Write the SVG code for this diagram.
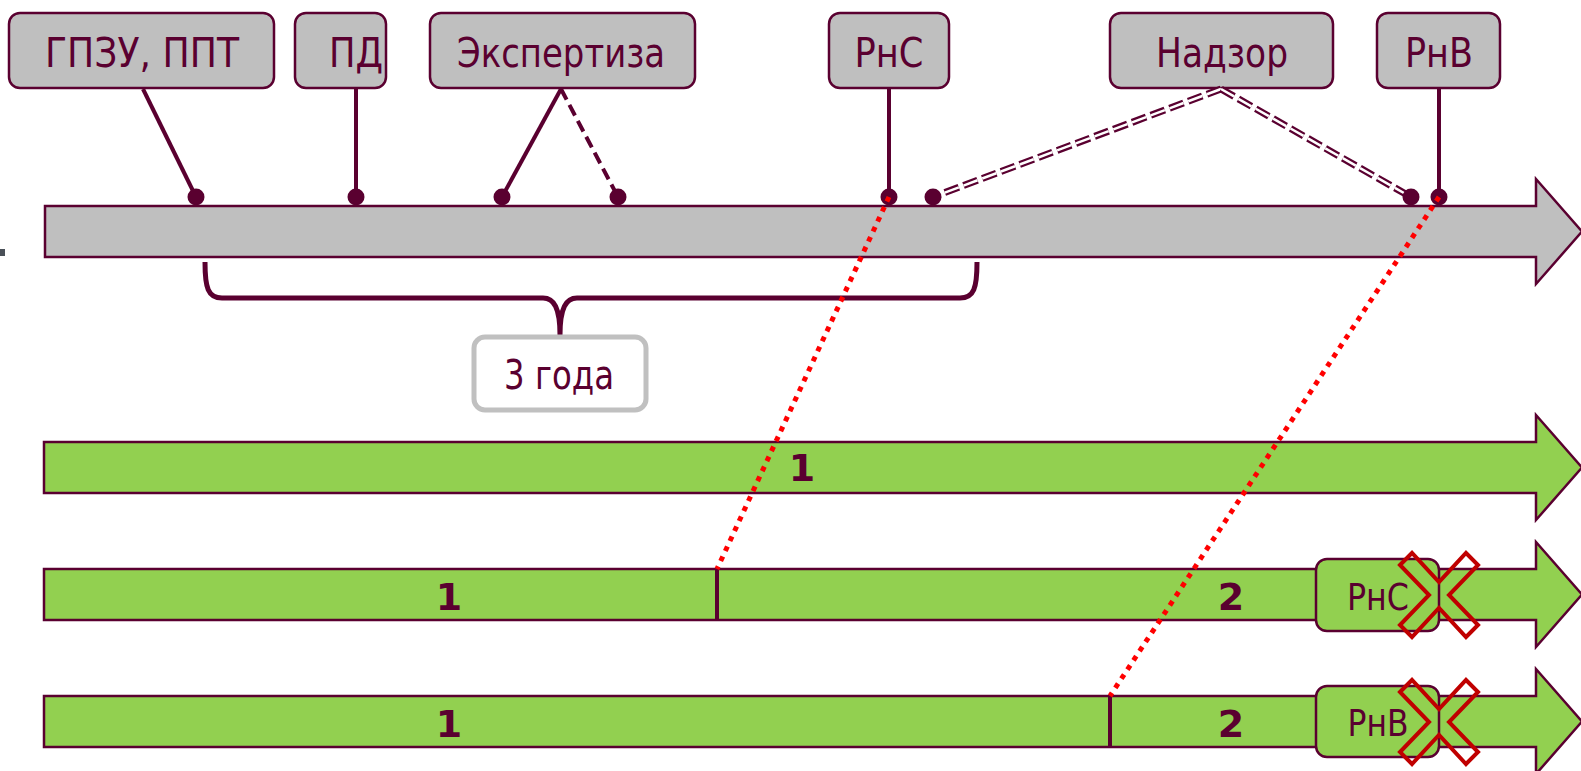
<svg xmlns="http://www.w3.org/2000/svg" width="1581" height="771" viewBox="0 0 1581 771">
<defs>
<style>
.box{fill:#bfbfbf;stroke:#5a0030;stroke-width:2.5}
.lbl{font-family:"DejaVu Sans","Liberation Sans",sans-serif;font-size:40px;fill:#5a0030;text-anchor:middle}
.sl{font-family:"DejaVu Sans","Liberation Sans",sans-serif;font-size:37px;fill:#5a0030;text-anchor:middle}
.num{font-family:"DejaVu Sans","Liberation Sans",sans-serif;font-size:38px;font-weight:bold;fill:#5a0030;text-anchor:middle}
.bar{fill:#bfbfbf;stroke:#5a0030;stroke-width:2.5}
.gbar{fill:#92d050;stroke:#5a0030;stroke-width:2.5}
.gbox{fill:#92d050;stroke:#5a0030;stroke-width:2.5}
.ln{stroke:#5a0030;stroke-width:4;fill:none}
.dsh{stroke:#5a0030;stroke-width:4;fill:none;stroke-dasharray:12 6}
.dbl{stroke:#5a0030;stroke-width:7;fill:none;stroke-dasharray:15 5}
.dblw{stroke:#ffffff;stroke-width:2.5;fill:none;stroke-dasharray:15 5}
.dot{fill:#5a0030}
.red{stroke:#ff0000;stroke-width:5;fill:none;stroke-dasharray:5 6}
.x{fill:none;stroke:#c00000;stroke-width:4}
.div{stroke:#5a0030;stroke-width:4}
</style>
</defs>
<rect x="0" y="249" width="5" height="7" fill="#4a5058"/>
<g id="timeline">
<path class="bar" d="M45,206 H1536 V179 L1582,231.5 L1536,284 V257 H45 Z"/>
</g>
<g id="brace">
<path d="M205,262 C205,288 208,298 222,298 L543,298 C554,298 560,308 560,335 C560,308 566,298 577,298 L960,298 C974,298 977,288 977,262" fill="none" stroke="#5a0030" stroke-width="5"/>
</g>
<g id="node-3goda">
<rect x="474" y="337" width="172" height="73" rx="11" fill="#ffffff" stroke="#c0c0c0" stroke-width="5"/>
<text class="lbl" x="559" y="389" textLength="110" lengthAdjust="spacingAndGlyphs">3 года</text>
</g>
<g id="node-gpzu">
<rect class="box" x="9" y="13" width="265" height="75" rx="11"/>
<text class="lbl" x="142" y="67" textLength="194" lengthAdjust="spacingAndGlyphs">ГПЗУ, ППТ</text>
</g>
<g id="node-pd">
<rect class="box" x="295" y="13" width="91" height="75" rx="11"/>
<text class="lbl" x="356" y="67" textLength="54" lengthAdjust="spacingAndGlyphs">ПД</text>
</g>
<g id="node-expertiza">
<rect class="box" x="430" y="13" width="265" height="75" rx="11"/>
<text class="lbl" x="561" y="67" textLength="208" lengthAdjust="spacingAndGlyphs">Экспертиза</text>
</g>
<g id="node-rns">
<rect class="box" x="829" y="13" width="120" height="75" rx="11"/>
<text class="lbl" x="889" y="67" textLength="69" lengthAdjust="spacingAndGlyphs">РнС</text>
</g>
<g id="node-nadzor">
<rect class="box" x="1110" y="13" width="223" height="75" rx="11"/>
<text class="lbl" x="1222" y="67" textLength="132" lengthAdjust="spacingAndGlyphs">Надзор</text>
</g>
<g id="node-rnv">
<rect class="box" x="1377" y="13" width="123" height="75" rx="11"/>
<text class="lbl" x="1439" y="67" textLength="68" lengthAdjust="spacingAndGlyphs">РнВ</text>
</g>
<g id="connectors">
<line class="ln" x1="143" y1="89" x2="196" y2="197"/>
<line class="ln" x1="356" y1="89" x2="356" y2="197"/>
<line class="ln" x1="561" y1="89" x2="502" y2="197"/>
<line class="dsh" x1="561" y1="89" x2="618" y2="197"/>
<line class="ln" x1="889" y1="89" x2="889" y2="197"/>
<line class="ln" x1="1439" y1="89" x2="1439" y2="197"/>
<line class="dbl" x1="1221" y1="89" x2="933" y2="197"/>
<line class="dblw" x1="1221" y1="89" x2="933" y2="197"/>
<line class="dbl" x1="1221" y1="89" x2="1411" y2="197"/>
<line class="dblw" x1="1221" y1="89" x2="1411" y2="197"/>
<circle class="dot" cx="196" cy="197" r="8.5"/>
<circle class="dot" cx="356" cy="197" r="8.5"/>
<circle class="dot" cx="502" cy="197" r="8.5"/>
<circle class="dot" cx="618" cy="197" r="8.5"/>
<circle class="dot" cx="889" cy="197" r="8.5"/>
<circle class="dot" cx="933" cy="197" r="8.5"/>
<circle class="dot" cx="1411" cy="197" r="8.5"/>
<circle class="dot" cx="1439" cy="197" r="8.5"/>
</g>
<g id="arrow-1">
<path class="gbar" d="M44,442 H1536 V415 L1582,467.5 L1536,520 V493 H44 Z"/>
<text class="num" x="802" y="481">1</text>
</g>
<g id="arrow-2">
<path class="gbar" d="M44,569 H1536 V542 L1582,594.5 L1536,647 V620 H44 Z"/>
<line class="div" x1="717" y1="569" x2="717" y2="619"/>
<text class="num" x="449" y="610">1</text>
<text class="num" x="1231" y="610">2</text>
</g>
<g id="node-rns-small">
<rect class="gbox" x="1316" y="559" width="123" height="72" rx="11"/>
<text class="sl" x="1378" y="610" textLength="62" lengthAdjust="spacingAndGlyphs">РнС</text>
<polygon class="x" points="1400,565 1412,553 1439,582 1466,553 1478,565 1449,595 1478,625 1466,637 1439,608 1412,637 1400,625 1429,595"/>
</g>
<g id="arrow-3">
<path class="gbar" d="M44,696 H1536 V669 L1582,721.5 L1536,774 V747 H44 Z"/>
<line class="div" x1="1110" y1="696" x2="1110" y2="746"/>
<text class="num" x="449" y="737">1</text>
<text class="num" x="1231" y="737">2</text>
</g>
<g id="node-rnv-small">
<rect class="gbox" x="1316" y="686" width="123" height="71" rx="11"/>
<text class="sl" x="1378" y="736" textLength="61" lengthAdjust="spacingAndGlyphs">РнВ</text>
<polygon class="x" points="1400,692 1412,680 1439,709 1466,680 1478,692 1449,722 1478,752 1466,764 1439,735 1412,764 1400,752 1429,722"/>
</g>
<g id="red-links">
<line class="red" x1="889" y1="197" x2="717" y2="569"/>
<line class="red" x1="1439" y1="197" x2="1110" y2="696"/>
</g>
</svg>
